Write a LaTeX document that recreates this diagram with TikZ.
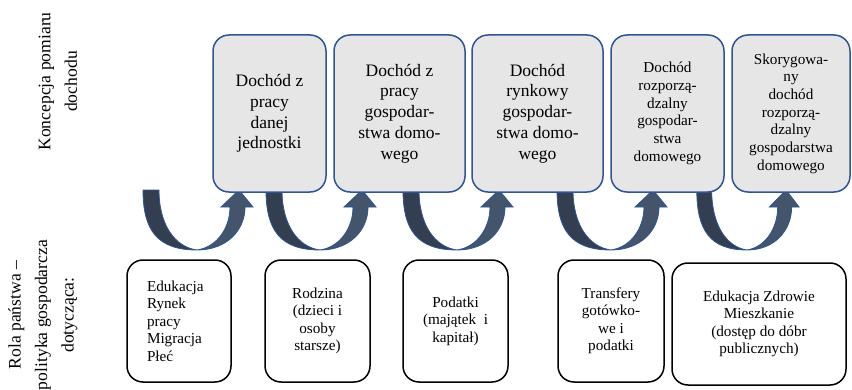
\documentclass[tikz,border=0pt]{standalone}
\usepackage{fontspec}
\setmainfont{Liberation Serif}
\usepackage{xcolor}

\definecolor{boxblue}{RGB}{47,85,151}
\definecolor{boxgray}{RGB}{231,230,230}
\definecolor{arrowdark}{RGB}{51,63,80}
\definecolor{arrowlight}{RGB}{68,84,106}

\tikzset{
  topbox/.style={draw=boxblue, fill=boxgray, line width=1.5pt, rounded corners=16pt,
    minimum height=157pt, align=center, font=\fontsize{17.5}{20.7}\selectfont},
  topboxsmall/.style={topbox, font=\fontsize{15.2}{17.7}\selectfont},
  policybox/.style={draw=black, fill=white, line width=1.5pt, rounded corners=16pt,
    minimum height=122pt, align=center, font=\fontsize{15.2}{17.5}\selectfont},
  sidelabel/.style={rotate=90, align=center, font=\fontsize{17.6}{26.5}\selectfont},
  curvedup/.pic={
    % back (dark) arm
    \filldraw[draw=boxblue, fill=arrowdark, line width=0.8pt]
      (-54,60) -- (-38,60) .. controls (-38,25) and (-22,3) .. (0,0)
      .. controls (-40,0) and (-54,20) .. (-54,60) -- cycle;
    % front arm with head
    \filldraw[draw=boxblue, fill=arrowlight, line width=0.8pt]
      (0,0) .. controls (30,0) and (48,20) .. (48,43) -- (56,43) -- (42,60)
      -- (24,43) -- (33,43) .. controls (33,22) and (20,3) .. (0,0) -- cycle;
  }
}

\begin{document}
\begin{tikzpicture}[x=1pt, y=1pt]
    \useasboundingbox (0,0) rectangle (852,389);

    % Side labels
    \node[sidelabel] (koncepcja) at (58,307.5) {Koncepcja pomiaru\\dochodu};
    \node[sidelabel] (rola) at (43,74) {Rola państwa –\\polityka gospodarcza\\dotycząca:};

    % Curved arrows (policy -> income concept)
    \pic at (197,139) {curvedup};
    \pic at (320,139) {curvedup};
    \pic at (457,139) {curvedup};
    \pic at (611,139) {curvedup};
    \pic[xscale=0.93] at (747,139) {curvedup};

    % Income concepts
    \node[topbox, minimum width=113pt] (pracajedn) at (269.5,275.5) {Dochód z\\pracy\\danej\\jednostki};
    \node[topbox, minimum width=131pt] (pracagosp) at (399.5,275.5) {Dochód z\\pracy\\gospodar-\\stwa domo-\\wego};
    \node[topbox, minimum width=131pt] (rynkowy) at (537.5,275.5) {Dochód\\rynkowy\\gospodar-\\stwa domo-\\wego};
    \node[topboxsmall, minimum width=113pt] (rozporz) at (667.5,275.5) {Dochód\\rozporzą-\\dzalny\\gospodar-\\stwa\\domowego};
    \node[topboxsmall, minimum width=118pt] (skoryg) at (791,275.5) {Skorygowa-\\ny\\dochód\\rozporzą-\\dzalny\\gospodarstwa\\domowego};

    % Policy areas
    \node[policybox, minimum width=104pt, text width=64pt, align=left] (edukacja) at (179,68) {Edukacja\\Rynek\\pracy\\Migracja\\Płeć};
    \node[policybox, minimum width=105pt] (rodzina) at (317.5,68) {Rodzina\\(dzieci i\\osoby\\starsze)};
    \node[policybox, minimum width=105pt] (podatki) at (455.5,68) {Podatki\\(majątek\ \ i\\kapitał)};
    \node[policybox, minimum width=106pt] (transfery) at (611,68) {Transfery\\gotówko-\\we i\\podatki};
    \node[policybox, minimum width=174pt] (publiczne) at (759,65) {Edukacja Zdrowie\\Mieszkanie\\(dostęp do dóbr\\publicznych)};
\end{tikzpicture}
\end{document}
